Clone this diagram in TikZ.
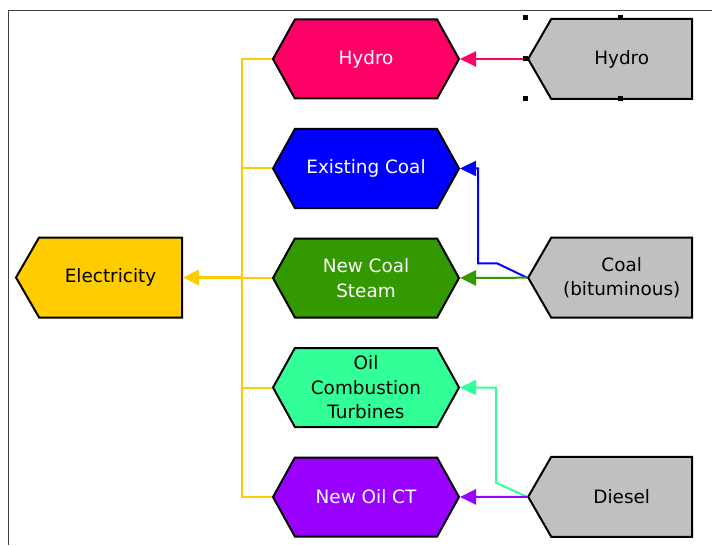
\documentclass[tikz,border=0pt]{standalone}
\usepackage{fontspec}
\setmainfont{DejaVu Sans}
\usetikzlibrary{shapes.symbols, arrows.meta}
\definecolor{hydropink}{HTML}{FF0066}
\definecolor{coalblue}{HTML}{0000FF}
\definecolor{steamgreen}{HTML}{339900}
\definecolor{oilmint}{HTML}{33FF99}
\definecolor{ctpurple}{HTML}{9900FF}
\definecolor{fuelgrey}{HTML}{C0C0C0}
\definecolor{elecyellow}{HTML}{FFCC00}
\tikzset{arrow/.style={line width=1.5pt, -{Triangle[length=12pt, width=11.5pt]}}}

\begin{document}
\begin{tikzpicture}[
    x=0.75pt, y=-0.75pt,
    plant/.style={signal, signal to=west and east, signal pointer angle=122, draw, line width=1.5pt, minimum width=139.5pt, minimum height=59.25pt, inner sep=0pt, align=center, font=\fontsize{13.8}{18.4}\selectfont},
    fuel/.style={signal, signal to=west, signal pointer angle=120, draw, line width=1.5pt, fill=fuelgrey, minimum width=123pt, minimum height=60pt, inner sep=0pt, align=center, font=\fontsize{13.8}{18.4}\selectfont},
    demand/.style={fuel, fill=elecyellow, minimum width=124.5pt},
    feed/.style={line width=1.5pt, elecyellow},
    handle/.style={fill=black}
]
    \useasboundingbox (0,0) rectangle (712,545);
    \draw[line width=0.75pt, black!75] (8,545) -- (8,10.5) -- (712,10.5);

    \node[plant, fill=hydropink, text=white] (hydro) at (366,59) {Hydro};
    \node[plant, fill=coalblue, text=white] (existing) at (366,168.5) {Existing Coal};
    \node[plant, fill=steamgreen, text=white] (newcoal) at (366,278) {New Coal\\Steam};
    \node[plant, fill=oilmint] (oilct) at (366,387.5) {Oil\\Combustion\\Turbines};
    \node[plant, fill=ctpurple, text=white] (newoil) at (366,497) {New Oil CT};

    \node[fuel, anchor=west] (hydrofuel) at (527,59) {Hydro};
    \node[fuel, anchor=west] (coal) at (527,277.7) {Coal\\(bituminous)};
    \node[fuel, anchor=west] (diesel) at (527,496.8) {Diesel};

    \node[demand, anchor=east] (elec) at (183,277.5) {Electricity};

    % yellow collector
    \coordinate (trunktop) at (242,59);
    \coordinate (trunkbot) at (242,497);
    \draw[feed] (hydro.west) -- (trunktop) -- (trunkbot) -- (newoil.west);
    \draw[feed] (existing.west) -- (existing.west -| trunktop);
    \draw[feed] (newcoal.west) -- (newcoal.west -| trunktop);
    \draw[feed] (oilct.west) -- (oilct.west -| trunktop);
    \draw[arrow, elecyellow, line width=2.25pt] (elec.east -| trunktop) -- (elec.east);

    % fuel inputs
    \coordinate (coalbend) at (497,263.3);
    \coordinate (dieselbend) at (496,482.7);
    \draw[arrow, hydropink] (hydrofuel.west) -- (hydro.east);
    \draw[arrow, coalblue] (coal.west) -- (coalbend) -- ++(-19,0) |- (existing.east);
    \draw[arrow, steamgreen] (coal.west) -- (newcoal.east);
    \draw[arrow, oilmint] (diesel.west) -- (dieselbend) |- (oilct.east);
    \draw[arrow, ctpurple] (diesel.west) -- (newoil.east);

    % selection handles
    \foreach \hx/\hy in {525/18, 525/59, 525/99, 620/18, 620/99}
        \fill[handle] (\hx-2.5,\hy-2.5) rectangle (\hx+2.5,\hy+2.5);
\end{tikzpicture}
\end{document}
